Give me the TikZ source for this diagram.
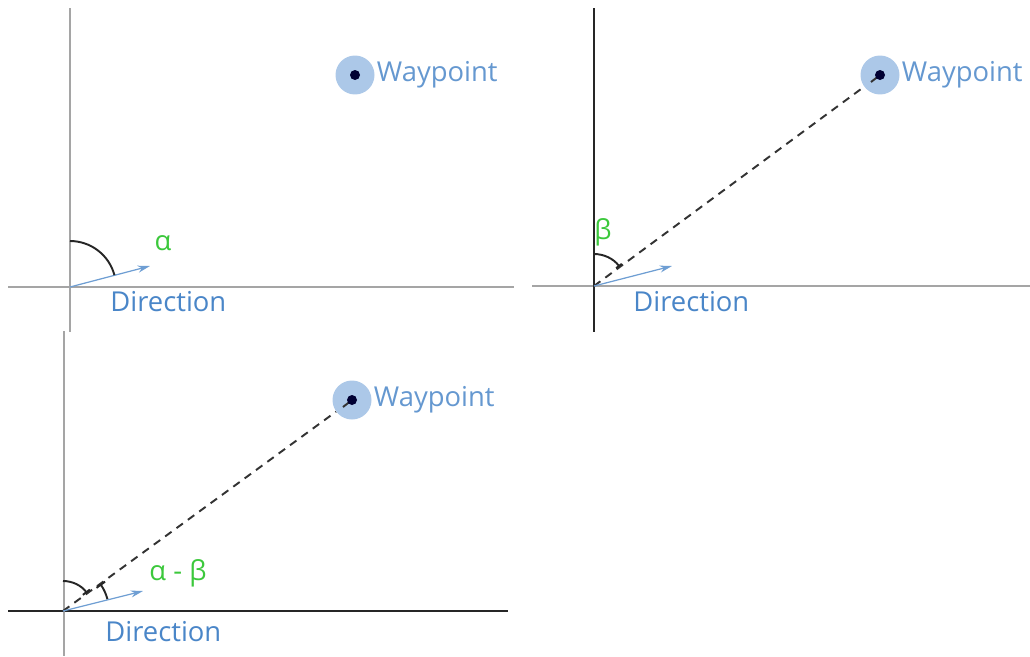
\documentclass[tikz,border=0pt]{standalone}
\usepackage{fontspec}
\setmainfont{Open Sans}
\usetikzlibrary{arrows.meta,positioning}

\definecolor{axisgray}{RGB}{165,165,165}
\definecolor{dirblue}{RGB}{74,134,200}
\definecolor{halo}{RGB}{172,200,232}
\definecolor{anglegreen}{RGB}{60,200,60}

\tikzset{
  lbl/.style={font=\fontsize{15.6}{18}\selectfont},
  axis/.style={axisgray, line width=1.1pt},
  axisdark/.style={black!85, line width=1.1pt},
  dirarrow/.style={dirblue!80, line width=0.7pt, -{Stealth[length=7pt,width=4pt]}},
  sight/.style={black!80, line width=1.1pt, dash pattern=on 4.5pt off 3.5pt},
  anglearc/.style={black!85, line width=1.1pt},
  waypoint/.style={circle, fill=halo, minimum size=0.78cm, inner sep=0pt},
  wpdot/.style={circle, fill=black!80!blue, minimum size=0.2cm, inner sep=0pt},
  wptext/.style={lbl, dirblue!85, right=1pt of #1, inner sep=0pt},
  dirtext/.style={lbl, dirblue, inner sep=0pt},
  angletext/.style={lbl, anglegreen, inner sep=0pt}
}

\begin{document}
\begin{tikzpicture}[x=0.02cm,y=-0.02cm]

\useasboundingbox (0,0) rectangle (1030,656);

% Direction seule
\draw[axis] (8,287) -- (514,287);
\draw[axis] (70,8) -- (70,332);

\coordinate (o1) at (70,287);
\coordinate (d1) at (150,266);
\draw[dirarrow] (o1) -- (d1);
\draw[anglearc] (o1) ++(0,-46) arc[start angle=-90, end angle=-15, radius=46];

\node[angletext] (a1) at (163,243) {α};
\node[dirtext, anchor=west] (t1) at (110,302) {Direction};

\node[waypoint] (w1) at (355,75) {};
\node[wpdot] at (w1) {};
\node[wptext=w1] {Waypoint};

% Angle vers le waypoint
\draw[axis] (532,286) -- (1030,286);
\draw[axisdark] (594,8) -- (594,332);

\coordinate (o2) at (594,286);
\coordinate (d2) at (672,266);
\node[waypoint] (w2) at (880,75) {};
\draw[sight] (o2) -- (w2);
\draw[sight, solid] (w2.center) -- ++(-9,7);
\node[wpdot] at (w2) {};
\draw[dirarrow] (o2) -- (d2);
\draw[anglearc, -{Bar[width=4pt]}] (o2) ++(0,-32) arc[start angle=-90, end angle=-37, radius=32];

\node[angletext] (b2) at (603,232) {β};
\node[dirtext, anchor=west] (t2) at (633,302) {Direction};
\node[wptext=w2] {Waypoint};

% Difference des deux angles
\draw[axisdark] (8,611) -- (508,611);
\draw[axis] (64,331) -- (64,656);

\coordinate (o3) at (63,611);
\coordinate (d3) at (143,591);
\node[waypoint] (w3) at (352,400) {};
\draw[sight] (o3) -- (w3);
\draw[sight, solid] (w3.center) -- ++(-9,7);
\node[wpdot] at (w3) {};
\draw[dirarrow] (o3) -- (d3);
\draw[anglearc, -{Bar[width=5pt]}] (o3) ++(0,-30) arc[start angle=-90, end angle=-37, radius=30];
\draw[anglearc, {Bar[width=6pt]}-] (o3) ++(-36:46) arc[start angle=-36, end angle=-15, radius=46];

\node[angletext] (ab3) at (178,573) {α - β};
\node[dirtext, anchor=west] (t3) at (105,632) {Direction};
\node[wptext=w3] {Waypoint};

\end{tikzpicture}
\end{document}
